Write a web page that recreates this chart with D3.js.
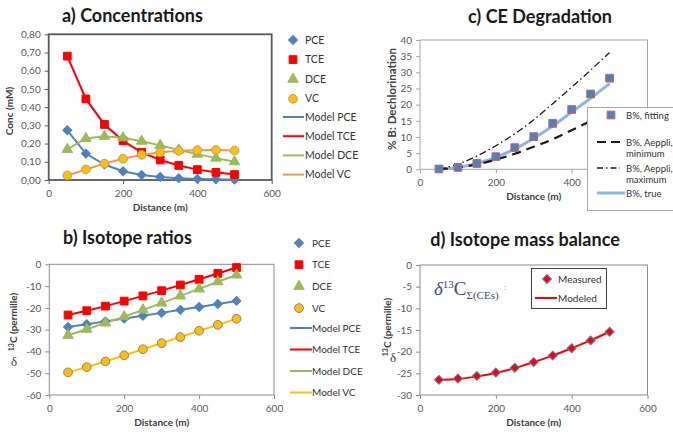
<!DOCTYPE html>
<html>
<head>
<meta charset="utf-8">
<script src="https://cdn.jsdelivr.net/npm/d3@7"></script>
<style>
  body { margin: 0; background: #fff; }
  text { font-family: Lato, "Liberation Sans", sans-serif; }
  .tick text { fill: #595959; font-size: 10px; }
</style>
</head>
<body>
<script>
// shared x positions (m)
var distance = [50, 100, 150, 200, 250, 300, 350, 400, 450, 500];
var xTicks = [0, 200, 400, 600];

// a) concentrations (mM)
var concPCE = [0.273, 0.145, 0.085, 0.048, 0.028, 0.017, 0.010, 0.006, 0.004, 0.002];
var concTCE = [0.680, 0.445, 0.305, 0.215, 0.152, 0.110, 0.080, 0.057, 0.042, 0.030];
var concDCE = [0.168, 0.228, 0.240, 0.232, 0.213, 0.190, 0.165, 0.142, 0.120, 0.100];
var concVC  = [0.025, 0.058, 0.090, 0.117, 0.138, 0.152, 0.160, 0.164, 0.165, 0.162];
var concTicks = [0, 0.1, 0.2, 0.3, 0.4, 0.5, 0.6, 0.7, 0.8];

// b) isotope ratios (permille)
var isoPCE = [-28.8, -27.5, -26.2, -24.9, -23.6, -22.3, -20.9, -19.6, -18.2, -16.8];
var isoTCE = [-23.3, -21.3, -19.2, -16.9, -14.5, -12.1, -9.5, -6.9, -4.2, -1.5];
var isoDCE = [-32.6, -29.8, -26.9, -24.0, -20.9, -17.8, -14.5, -11.3, -8.0, -4.9];
var isoVC  = [-49.6, -47.2, -44.6, -41.8, -39.0, -36.2, -33.4, -30.5, -27.8, -25.0];
var isoTicks = [0, -10, -20, -30, -40, -50, -60];

// c) CE degradation (% B)
var degFitting = [0.1, 0.6, 1.8, 3.9, 6.7, 10.1, 14.2, 18.5, 23.3, 28.2];
var degTrue    = [0.0, 0.6, 1.8, 3.7, 6.3, 9.6, 13.4, 17.7, 22.0, 26.5];
var degMin     = [0.0, 0.6, 1.5, 3.0, 4.8, 7.0, 9.3, 12.1, 15.0, 18.2];
var degMax     = [0.0, 1.6, 4.1, 7.3, 11.0, 15.3, 20.3, 25.4, 30.7, 36.1];
var degTicks = [0, 5, 10, 15, 20, 25, 30, 35, 40];

// d) isotope mass balance (permille)
var balMeasured = [-26.5, -26.2, -25.6, -24.8, -23.7, -22.4, -20.9, -19.2, -17.4, -15.4];
var balModeled  = [-26.5, -26.3, -25.7, -24.9, -23.8, -22.4, -20.9, -19.2, -17.4, -15.4];
var balTicks = [0, -5, -10, -15, -20, -25, -30];

var blue = "#4f81bd", red = "#ff0000", green = "#9bbb59", gold = "#ffc000", orange = "#f79646";
var serif = "'Liberation Serif', 'DejaVu Serif', serif";

var svg = d3.select("body").append("svg")
    .attr("width", 673)
    .attr("height", 434);

function pts(values) {
    return values.map(function (v, i) { return {d: distance[i], v: v}; });
}

function makePanel(p) {
    var x = d3.scaleLinear().domain([0, 600]).range([p.left, p.right]);
    var y = d3.scaleLinear().domain(p.yDomain).range([p.bottom, p.top]);
    var g = svg.append("g");

    g.append("rect")
        .attr("x", p.left).attr("y", p.top)
        .attr("width", p.right - p.left).attr("height", p.bottom - p.top)
        .attr("fill", "none")
        .attr("stroke", p.border)
        .attr("stroke-width", p.borderWidth);

    var xa = g.append("g")
        .attr("transform", "translate(0," + p.bottom + ")")
        .call(d3.axisBottom(x).tickValues(xTicks).tickSize(4).tickSizeOuter(0).tickPadding(6)
            .tickFormat(p.xFormat || plain));
    var ya = g.append("g")
        .attr("transform", "translate(" + p.left + ",0)")
        .call(d3.axisLeft(y).tickValues(p.yTicks).tickSize(4).tickSizeOuter(0).tickPadding(4).tickFormat(p.yFormat));
    [xa, ya].forEach(function (a) {
        a.select(".domain").remove();
        a.selectAll(".tick line").attr("stroke", p.border);
    });

    g.append("text")
        .attr("x", (p.left + p.right) / 2)
        .attr("y", p.bottom + 31)
        .attr("text-anchor", "middle")
        .attr("font-size", 10).attr("font-weight", "bold").attr("fill", "#404040")
        .text("Distance (m)");

    g.append("text")
        .attr("x", p.titleX).attr("y", p.titleY)
        .attr("text-anchor", p.titleAnchor)
        .attr("font-size", 18).attr("font-weight", "bold").attr("fill", "#1a1a1a")
        .text(p.title);

    return {g: g, x: x, y: y};
}

function drawLine(P, values, color, width, dash, curve) {
    P.g.append("path")
        .datum(pts(values))
        .attr("fill", "none")
        .attr("stroke", color)
        .attr("stroke-width", width)
        .attr("stroke-dasharray", dash)
        .attr("d", d3.line()
            .curve(curve || d3.curveMonotoneX)
            .x(function (d) { return P.x(d.d); })
            .y(function (d) { return P.y(d.v); }));
}

var shapes = {
    diamond: d3.symbol().type(d3.symbolSquare).size(40),
    square: d3.symbol().type(d3.symbolSquare).size(60),
    triangle: d3.symbol().type(d3.symbolTriangle).size(48),
    circle: d3.symbol().type(d3.symbolCircle).size(60)
};

function marker(g, x, y, shape, fill, stroke) {
    g.append("path")
        .attr("d", shapes[shape]())
        .attr("transform", "translate(" + x + "," + y + ")" + (shape === "diamond" ? " rotate(45)" : ""))
        .attr("fill", fill)
        .attr("stroke", stroke)
        .attr("stroke-width", 1);
}

function drawPoints(P, values, shape, fill, stroke) {
    pts(values).forEach(function (d) {
        marker(P.g, P.x(d.d), P.y(d.v), shape, fill, stroke);
    });
}

function legendText(g, x, y, str, size) {
    return g.append("text")
        .attr("x", x).attr("y", y + 3.5)
        .attr("font-size", size || 10).attr("fill", "#333")
        .text(str);
}

function yLabel(g, x, y, str, size) {
    g.append("text")
        .attr("transform", "translate(" + x + "," + y + ") rotate(-90)")
        .attr("text-anchor", "middle")
        .attr("font-size", size).attr("font-weight", "bold").attr("fill", "#404040")
        .text(str);
}

function isoLabel(g, x, y, dx, dy) {
    var t = g.append("text")
        .attr("transform", "translate(" + x + "," + y + ") rotate(-90)")
        .attr("text-anchor", "middle")
        .attr("font-size", 10).attr("font-weight", "bold").attr("fill", "#404040");
    t.append("tspan").attr("font-size", 7).attr("dy", -3).text("13");
    t.append("tspan").attr("dy", 3).text("C (permille)");
    g.append("text")
        .attr("x", dx).attr("y", dy)
        .attr("text-anchor", "middle")
        .attr("font-size", 13).attr("fill", "#404040")
        .style("font-family", serif)
        .text("δ");
}

var comma = function (d) { return d3.format(".2f")(d).replace(".", ","); };
var plain = function (d) { return String(d); };

// ---- a) Concentrations
var A = makePanel({
    left: 48.7, right: 271.7, top: 34.3, bottom: 180,
    yDomain: [0, 0.8], yTicks: concTicks, yFormat: comma,
    border: "#595959", borderWidth: 1.8,
    title: "a) Concentrations", titleX: 62, titleY: 22, titleAnchor: "start"
});
yLabel(A.g, 13, 111, "Conc (mM)", 10);
drawLine(A, concPCE, blue, 2, null, d3.curveLinear);
drawLine(A, concTCE, red, 2, null, d3.curveLinear);
drawLine(A, concDCE, green, 2, null, d3.curveLinear);
drawLine(A, concVC, orange, 2, null, d3.curveLinear);
drawPoints(A, concPCE, "diamond", blue, blue);
drawPoints(A, concTCE, "square", red, red);
drawPoints(A, concDCE, "triangle", green, green);
drawPoints(A, concVC, "circle", gold, "#b0a080");

var legA = [["PCE", "diamond", blue, blue], ["TCE", "square", red, red],
            ["DCE", "triangle", green, green], ["VC", "circle", gold, "#b0a080"]];
legA.forEach(function (l, i) {
    var yy = 40 + i * 19.6;
    marker(A.g, 293, yy, l[1], l[2], l[3]);
    legendText(A.g, 305, yy, l[0], 10.5);
});
[["Model PCE", blue], ["Model TCE", red], ["Model DCE", green], ["Model VC", orange]].forEach(function (l, i) {
    var yy = 117 + i * 19.2;
    A.g.append("line").attr("x1", 283).attr("x2", 304).attr("y1", yy).attr("y2", yy)
        .attr("stroke", l[1]).attr("stroke-width", 2);
    legendText(A.g, 305, yy, l[0], 10.5);
});

// ---- b) Isotope ratios
var B = makePanel({
    left: 49.3, right: 274, top: 264.3, bottom: 395,
    yDomain: [-60, 0], yTicks: isoTicks, yFormat: plain,
    border: "#8c8c8c", borderWidth: 1,
    title: "b) Isotope ratios", titleX: 63, titleY: 244, titleAnchor: "start"
});
isoLabel(B.g, 17, 322, 14, 366);
drawLine(B, isoPCE, blue, 2, null, d3.curveLinear);
drawLine(B, isoTCE, red, 2, null, d3.curveLinear);
drawLine(B, isoDCE, green, 2, null, d3.curveLinear);
drawLine(B, isoVC, gold, 2, null, d3.curveLinear);
drawPoints(B, isoPCE, "diamond", blue, blue);
drawPoints(B, isoTCE, "square", red, red);
drawPoints(B, isoDCE, "triangle", green, green);
drawPoints(B, isoVC, "circle", gold, "#8c7a9a");

var legB = [["PCE", "diamond", blue, blue], ["TCE", "square", red, red],
            ["DCE", "triangle", green, green], ["VC", "circle", gold, "#8c7a9a"]];
legB.forEach(function (l, i) {
    var yy = 243 + i * 21.7;
    marker(B.g, 299, yy, l[1], l[2], l[3]);
    legendText(B.g, 312, yy, l[0], 10);
});
[["Model PCE", blue], ["Model TCE", red], ["Model DCE", green], ["Model VC", gold]].forEach(function (l, i) {
    var yy = 328 + i * 21.5;
    B.g.append("line").attr("x1", 290).attr("x2", 312).attr("y1", yy).attr("y2", yy)
        .attr("stroke", l[1]).attr("stroke-width", 2);
    legendText(B.g, 312, yy, l[0], 10);
});

// ---- c) CE Degradation (the 600 label sits under the legend)
var C = makePanel({
    left: 420, right: 647.5, top: 40, bottom: 169.3,
    yDomain: [0, 40], yTicks: degTicks, yFormat: plain,
    xFormat: function (d) { return d === 600 ? "" : String(d); },
    border: "#a6a6a6", borderWidth: 1,
    title: "c) CE Degradation", titleX: 540, titleY: 23, titleAnchor: "middle"
});
yLabel(C.g, 396, 99, "% B: Dechlorination", 11.5);
drawLine(C, degTrue, "#8eb4e3", 3, null);
drawLine(C, degMin, "#1a1a1a", 2.2, "9,6");
drawLine(C, degMax, "#1a1a1a", 1.3, "7,3,1.5,3");
drawPoints(C, degFitting, "square", "#4f81bd", "#d06060");

var lc = C.g.append("g");
lc.append("rect").attr("x", 587.5).attr("y", 107.5).attr("width", 100).attr("height", 103)
    .attr("fill", "#fff").attr("stroke", "#a6a6a6");
marker(lc, 611, 115, "square", "#4f81bd", "#d06060");
legendText(lc, 626, 115, "B%, fitting", 9.5);
lc.append("line").attr("x1", 597).attr("x2", 620).attr("y1", 142).attr("y2", 142)
    .attr("stroke", "#1a1a1a").attr("stroke-width", 2.2).attr("stroke-dasharray", "9,5");
legendText(lc, 626, 142, "B%, Aeppli,", 9.5);
legendText(lc, 626, 153, "minimum", 9.5);
lc.append("line").attr("x1", 597).attr("x2", 620).attr("y1", 168).attr("y2", 168)
    .attr("stroke", "#1a1a1a").attr("stroke-width", 1.3).attr("stroke-dasharray", "6,3,1.5,3");
legendText(lc, 626, 168, "B%, Aeppli,", 9.5);
legendText(lc, 626, 179, "maximum", 9.5);
lc.append("line").attr("x1", 597).attr("x2", 625).attr("y1", 193).attr("y2", 193)
    .attr("stroke", "#8eb4e3").attr("stroke-width", 3);
legendText(lc, 626, 193, "B%, true", 9.5);

// ---- d) Isotope mass balance
var D = makePanel({
    left: 420, right: 647.5, top: 265, bottom: 395,
    yDomain: [-30, 0], yTicks: balTicks, yFormat: plain,
    border: "#8c8c8c", borderWidth: 1,
    title: "d) Isotope mass balance", titleX: 525, titleY: 246, titleAnchor: "middle"
});
isoLabel(D.g, 391, 327, 393, 362);
drawLine(D, balModeled, red, 2, null);
drawPoints(D, balMeasured, "diamond", red, blue);

var note = D.g.append("text").attr("x", 434).attr("y", 295)
    .attr("fill", "#3f4b6e").style("font-family", serif);
note.append("tspan").attr("font-size", 19).attr("font-style", "italic").text("δ");
note.append("tspan").attr("font-size", 11).attr("dy", -7).text("13");
note.append("tspan").attr("font-size", 19).attr("dy", 7).text("C");
note.append("tspan").attr("font-size", 11).attr("dy", 4).text("Σ(CEs)");
D.g.append("text").attr("x", 504).attr("y", 290).attr("font-size", 8).attr("fill", "#e07050").text(":");

var ld = D.g.append("g");
ld.append("rect").attr("x", 531.5).attr("y", 268.5).attr("width", 75).attr("height", 40)
    .attr("fill", "#fff").attr("stroke", "#404040");
marker(ld, 547, 279, "diamond", red, blue);
legendText(ld, 558, 279, "Measured", 10);
ld.append("line").attr("x1", 535).attr("x2", 557).attr("y1", 298).attr("y2", 298)
    .attr("stroke", red).attr("stroke-width", 2);
legendText(ld, 558, 298, "Modeled", 10);
</script>
</body>
</html>
